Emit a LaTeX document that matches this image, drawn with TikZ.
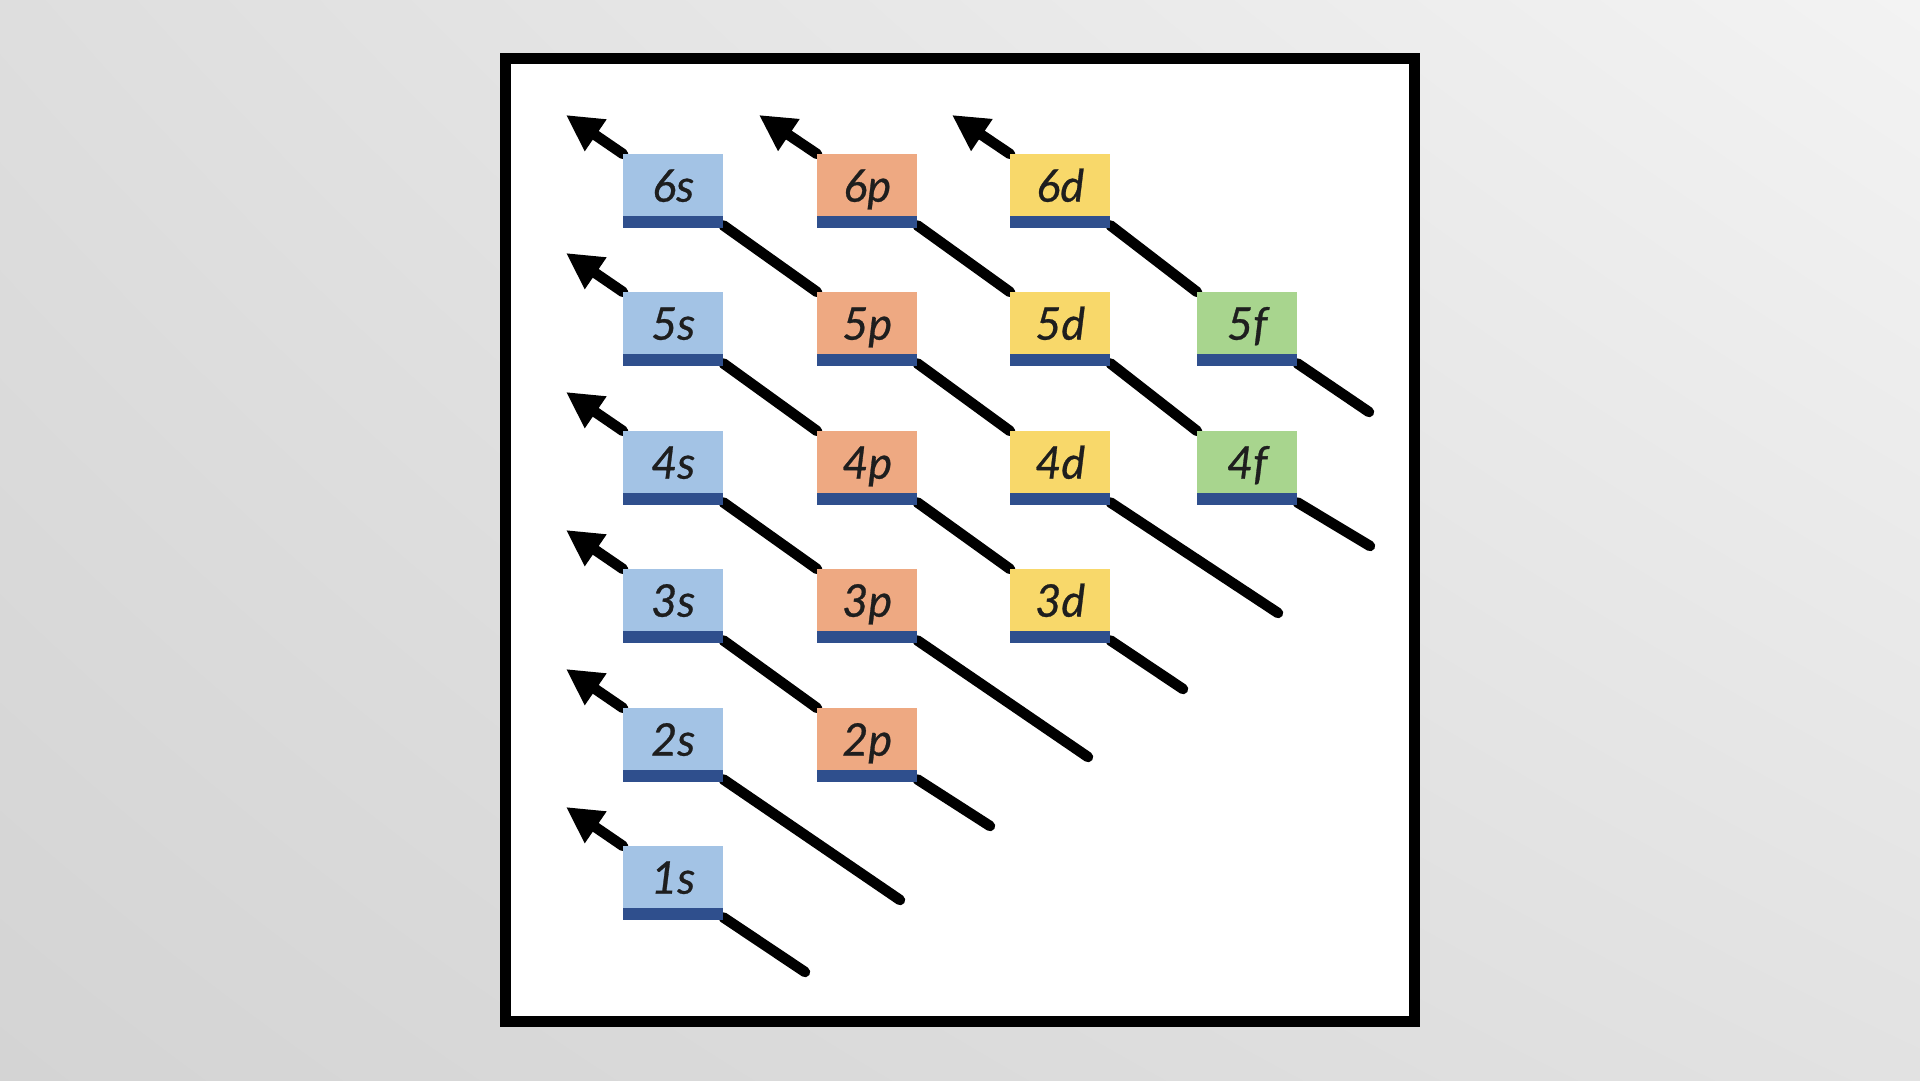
\documentclass[tikz,border=0pt]{standalone}
\usepackage{fontspec}
\setmainfont{Lato}
\newfontfamily\orbfont[FakeBold=0.6]{Lato}
\usetikzlibrary{arrows.meta,shadings}
\pgfdeclarelayer{back}
\pgfdeclarelayer{mid}
\pgfsetlayers{back,mid,main}
\definecolor{sblue}{HTML}{A3C3E5}
\definecolor{porange}{HTML}{EEA982}
\definecolor{dyellow}{HTML}{F8D86A}
\definecolor{fgreen}{HTML}{A8D58E}
\definecolor{barc}{HTML}{2F4F8D}
\definecolor{txt}{HTML}{1E1E1E}
\definecolor{bgul}{HTML}{DEDEDE}
\definecolor{bgur}{HTML}{F3F3F3}
\definecolor{bgll}{HTML}{D4D4D4}
\definecolor{bglr}{HTML}{E2E2E2}
\tikzset{
  orb/.style={rectangle, inner sep=0pt, minimum width=100pt, minimum height=62pt,
    anchor=north west, text height=33pt, text depth=0pt,
    font=\orbfont\fontsize{45}{50}\selectfont\itshape, text=txt},
  barfill/.style={fill=barc},
  link/.style={line width=10.5pt, line cap=round, draw=black},
  up/.style={link, -{Triangle[length=36pt,width=36pt]}},
  frame/.style={line width=11pt, draw=black, fill=white}
}
\newcommand\mkorb[4]{%
  \node[orb, fill=#3] (#1) at (#2) {#4};
  \fill[barfill] (#1.south west) rectangle ([yshift=-12pt]#1.south east);
  \coordinate (#1b) at ([yshift=-9pt]#1.south east);
}
\begin{document}
\begin{tikzpicture}[x=1pt,y=-1pt]
\useasboundingbox (0,0) rectangle (1920,1080);
\begin{pgfonlayer}{back}
  \shade[upper left=bgul, upper right=bgur, lower left=bgll, lower right=bglr]
    (0,0) rectangle (1920,1080);
  \draw[frame] (505,58.5) rectangle (1414,1021);
\end{pgfonlayer}

% rows: 6:154 5:292 4:431 3:569 2:708 1:846 ; cols: 623 817 1010 1197
\mkorb{s6}{623,154}{sblue}{6s}
\mkorb{s5}{623,292}{sblue}{5s}
\mkorb{s4}{623,431}{sblue}{4s}
\mkorb{s3}{623,569}{sblue}{3s}
\mkorb{s2}{623,708}{sblue}{2s}
\mkorb{s1}{623,846}{sblue}{1s}
\mkorb{p6}{817,154}{porange}{6p}
\mkorb{p5}{817,292}{porange}{5p}
\mkorb{p4}{817,431}{porange}{4p}
\mkorb{p3}{817,569}{porange}{3p}
\mkorb{p2}{817,708}{porange}{2p}
\mkorb{d6}{1010,154}{dyellow}{6d}
\mkorb{d5}{1010,292}{dyellow}{5d}
\mkorb{d4}{1010,431}{dyellow}{4d}
\mkorb{d3}{1010,569}{dyellow}{3d}
\mkorb{f5}{1197,292}{fgreen}{5f}
\mkorb{f4}{1197,431}{fgreen}{4f}

% arrow tips
\coordinate (ts6) at (566,115);
\coordinate (ts5) at (566,253);
\coordinate (ts4) at (566,392);
\coordinate (ts3) at (566,530);
\coordinate (ts2) at (566,669);
\coordinate (ts1) at (566,807);
\coordinate (tp6) at (759,115);
\coordinate (td6) at (952,115);
% free ends
\coordinate (e1s) at (805,972);
\coordinate (e2s) at (900,900);
\coordinate (e2p) at (990,826);
\coordinate (e3p) at (1088,757);
\coordinate (e3d) at (1183,689);
\coordinate (e4d) at (1278,613);
\coordinate (e4f) at (1370,546);
\coordinate (e5f) at (1369,412);

\begin{pgfonlayer}{mid}
  \draw[up] (s6.north west) -- (ts6);
  \draw[up] (s5.north west) -- (ts5);
  \draw[up] (s4.north west) -- (ts4);
  \draw[up] (s3.north west) -- (ts3);
  \draw[up] (s2.north west) -- (ts2);
  \draw[up] (s1.north west) -- (ts1);
  \draw[up] (p6.north west) -- (tp6);
  \draw[up] (d6.north west) -- (td6);

  \draw[link] (s6b) -- (p5.north west);
  \draw[link] (p5b) -- (d4.north west);
  \draw[link] (d4b) -- (e4d);
  \draw[link] (s5b) -- (p4.north west);
  \draw[link] (p4b) -- (d3.north west);
  \draw[link] (d3b) -- (e3d);
  \draw[link] (s4b) -- (p3.north west);
  \draw[link] (p3b) -- (e3p);
  \draw[link] (s3b) -- (p2.north west);
  \draw[link] (p2b) -- (e2p);
  \draw[link] (s2b) -- (e2s);
  \draw[link] (s1b) -- (e1s);
  \draw[link] (p6b) -- (d5.north west);
  \draw[link] (d5b) -- (f4.north west);
  \draw[link] (f4b) -- (e4f);
  \draw[link] (d6b) -- (f5.north west);
  \draw[link] (f5b) -- (e5f);
\end{pgfonlayer}
\end{tikzpicture}
\end{document}
